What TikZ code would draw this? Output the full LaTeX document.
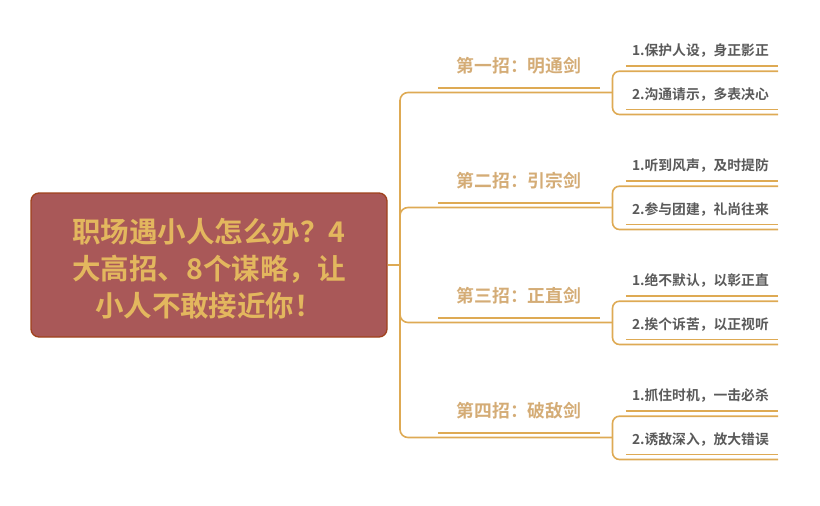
\documentclass[tikz,border=0pt]{standalone}
\usepackage{fontspec}
\setmainfont{Noto Sans CJK SC Bold}
\usetikzlibrary{calc}
\definecolor{linec}{HTML}{DEAA54}
\definecolor{titlec}{HTML}{D4AC76}
\definecolor{itemc}{HTML}{5A5A5A}
\definecolor{centc}{HTML}{E3B75E}
\definecolor{boxf}{HTML}{A95858}
\definecolor{boxb}{HTML}{A0421C}
\begin{document}
\begin{tikzpicture}[x=1pt,y=-1pt,
  conn/.style={draw=linec,line width=1.6pt},
  ttl/.style={text=titlec,font=\fontsize{17.8}{20}\selectfont,minimum width=162pt,minimum height=45pt,inner sep=0pt},
  itm/.style={text=itemc,font=\fontsize{13.8}{16}\selectfont,minimum height=30pt,inner xsep=6pt,inner ysep=0pt,align=left,text width=140pt},
  centbox/.style={draw=boxb,fill=boxf,rounded corners=8pt,line width=1.3pt,minimum width=356pt,minimum height=144pt},
  centtext/.style={text=centc,align=center,inner sep=0pt,font=\fontsize{28.5}{37}\selectfont}
  ]
\useasboundingbox (0,0) rectangle (820,506);
\node[centbox] (c) at (209,265) {};
\node[centtext] (ct) at (209,268.5) {职场遇小人怎么办？4\\大高招、8个谋略，让\\小人不敢接近你！};
\coordinate (j) at (400,265);
\draw[conn] (c.east) -- (j);
\foreach \k/\ttext/\ia/\ib in {
  1/第一招：明通剑/1.保护人设，身正影正/2.沟通请示，多表决心,
  2/第二招：引宗剑/1.听到风声，及时提防/2.参与团建，礼尚往来,
  3/第三招：正直剑/1.绝不默认，以彰正直/2.挨个诉苦，以正视听,
  4/第四招：破敌剑/1.抓住时机，一击必杀/2.诱敌深入，放大错误}{
  \pgfmathsetmacro\B{92.5+115*(\k-1)}
  \node[ttl] (t\k) at (519,\B-27.2) {\ttext};
  \node[itm] (i\k a) at (702,\B-41.5) {\ia};
  \node[itm] (i\k b) at (702,\B+1.8) {\ib};
  \coordinate (b\k) at (612.5,\B);
  \draw[conn] (t\k.south west) -- (t\k.south east);
  \draw[conn] (i\k a.south west) -- (i\k a.south east);
  \draw[conn] (i\k b.south west) -- (i\k b.south east);
  \draw[conn,rounded corners=8pt] (j) |- (b\k);
  \draw[conn,rounded corners=7pt] ($(i\k a.south east)+(0,5)$) -| (b\k) |- ($(i\k b.south east)+(0,5)$);
}
\end{tikzpicture}
\end{document}
